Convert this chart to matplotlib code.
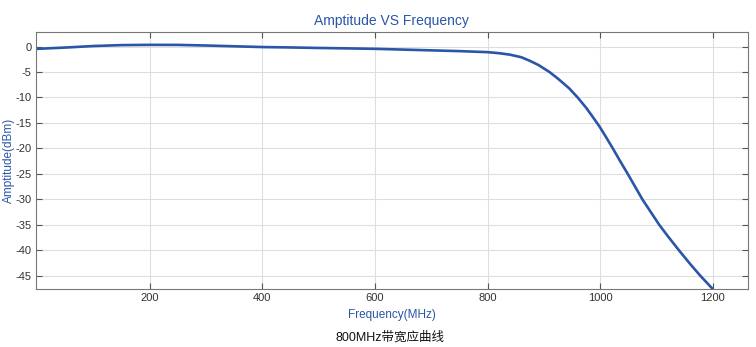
import matplotlib
matplotlib.use('Agg')
import matplotlib.pyplot as plt
import numpy as np

# values
freq_mhz = [0, 50, 100, 150, 200, 250, 300, 350, 400, 450, 500, 550, 600, 650, 700, 750,
            800, 820, 840, 860, 875, 890, 910, 925, 945, 960, 975, 990, 1000, 1010, 1022,
            1035, 1049, 1062, 1075, 1090, 1105, 1120, 1140, 1160, 1178, 1200]
amp_dbm = [-0.45, -0.2, 0.1, 0.28, 0.33, 0.32, 0.2, 0.05, -0.1, -0.18, -0.28, -0.36, -0.45, -0.6, -0.75, -0.9,
           -1.1, -1.3, -1.6, -2.1, -2.8, -3.6, -5.0, -6.3, -8.2, -10.0, -12.0, -14.3, -15.9, -17.7, -19.9,
           -22.4, -25.0, -27.5, -30.0, -32.5, -35.0, -37.2, -40.0, -42.7, -45.0, -47.6]
x_ticks = [200, 400, 600, 800, 1000, 1200]
y_ticks = [0, -5, -10, -15, -20, -25, -30, -35, -40, -45]

blue = '#2b55a8'
plt.rcParams['font.family'] = ['Liberation Sans', 'Noto Sans CJK SC', 'DejaVu Sans']
plt.rcParams['axes.unicode_minus'] = False

fig = plt.figure(figsize=(7.56, 3.47), dpi=100)
ax = fig.add_axes([0.0476, 0.167, 0.9414, 0.74])

ax.plot(freq_mhz, amp_dbm, color=blue, linewidth=1.9, solid_capstyle='round', solid_joinstyle='round')

ax.set_xlim(-2, 1262)
ax.set_ylim(-47.6, 2.8)
ax.set_xticks(x_ticks)
ax.set_yticks(y_ticks)
ax.grid(True, color='#dedede', linewidth=0.8)
ax.set_axisbelow(True)
ax.tick_params(direction='in', top=True, right=True, labeltop=False, labelright=False,
               labelsize=8, colors='#555555', labelcolor='#333333', length=4, width=0.8, pad=3)
for sp in ax.spines.values():
    sp.set_color('#777777')
    sp.set_linewidth(0.8)

ax.set_title('Amptitude VS Frequency', color=blue, fontsize=10, pad=5)
ax.set_xlabel('Frequency(MHz)', color=blue, fontsize=8.5, labelpad=4)
ax.set_ylabel('Amptitude(dBm)', color=blue, fontsize=8.5)
ax.yaxis.set_label_coords(-0.029, 0.5)

fig.text(0.516, 0.028, '800MHz带宽应曲线', fontsize=9, color='#111111', ha='center', va='center')

fig.savefig('out.png', dpi=100)
